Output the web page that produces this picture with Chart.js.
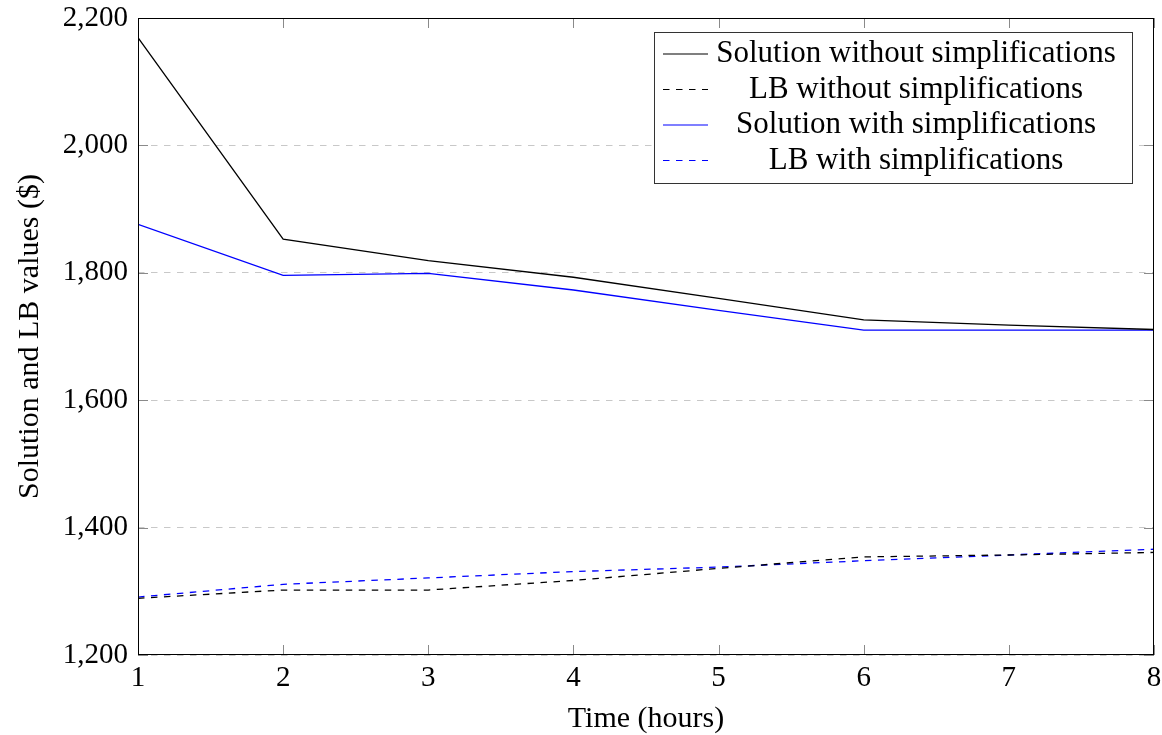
<!DOCTYPE html>
<html>
<head>
<meta charset="utf-8">
<script src="https://cdn.jsdelivr.net/npm/chart.js@4/dist/chart.umd.min.js"></script>
<style>
html, body { margin: 0; padding: 0; background: #fff; }
</style>
</head>
<body>
<canvas id="chart" width="1162" height="735"></canvas>
<script>
const hours = [1, 2, 3, 4, 5, 6, 7, 8];
const solNoSimp = [2169, 1853, 1819, 1793, 1760, 1726, 1718, 1711];
const lbNoSimp = [1289, 1302, 1302, 1317, 1336, 1354, 1357, 1361];
const solSimp = [1876, 1796, 1799, 1773, 1741, 1710, 1710, 1710];
const lbSimp = [1291, 1311, 1321, 1331, 1338, 1348, 1357, 1366];
const yTicks = [1200, 1400, 1600, 1800, 2000, 2200];
const seriesLabels = [
  "Solution without simplifications",
  "LB without simplifications",
  "Solution with simplifications",
  "LB with simplifications"
];

const font = "'Liberation Serif', 'DejaVu Serif', serif";
const dash = [6.5, 6.5];

function points(values) {
  return hours.map((h, i) => ({ x: h, y: values[i] }));
}

// keep the plot box where it is, labels may overflow into the margins
function noOverflow(s) {
  s.paddingTop = 0;
  s.paddingBottom = 0;
  s.paddingLeft = 0;
  s.paddingRight = 0;
}

// pgfplots style: inner ticks + black frame
const framePlugin = {
  id: "frame",
  afterDatasetsDraw(chart) {
    const { ctx, chartArea: a, scales } = chart;
    const len = 10;
    ctx.save();
    ctx.strokeStyle = "#8a8a8a";
    ctx.lineWidth = 1;
    ctx.beginPath();
    scales.x.ticks.forEach(t => {
      const px = Math.round(scales.x.getPixelForValue(t.value)) + 0.5;
      ctx.moveTo(px, a.bottom); ctx.lineTo(px, a.bottom - len);
      ctx.moveTo(px, a.top); ctx.lineTo(px, a.top + len);
    });
    scales.y.ticks.forEach(t => {
      const py = Math.round(scales.y.getPixelForValue(t.value)) + 0.5;
      ctx.moveTo(a.left, py); ctx.lineTo(a.left + len, py);
      ctx.moveTo(a.right, py); ctx.lineTo(a.right - len, py);
    });
    ctx.stroke();
    ctx.strokeStyle = "#000";
    ctx.strokeRect(Math.round(a.left) + 0.5, Math.round(a.top) + 0.5,
      Math.round(a.right - a.left) - 1, Math.round(a.bottom - a.top) - 1);
    ctx.restore();
  }
};

const legendPlugin = {
  id: "boxLegend",
  afterDraw(chart) {
    const { ctx, chartArea: a } = chart;
    const sets = chart.data.datasets;
    const w = 478, rowH = 35.5;
    const h = rowH * sets.length + 9;
    const x0 = a.right - 22 - w, y0 = a.top + 14;
    ctx.save();
    ctx.fillStyle = "#fff";
    ctx.fillRect(x0, y0, w, h);
    ctx.strokeStyle = "#333";
    ctx.lineWidth = 1;
    ctx.strokeRect(x0 + 0.5, y0 + 0.5, w, h);
    ctx.font = "31px " + font;
    ctx.textAlign = "center";
    ctx.textBaseline = "middle";
    sets.forEach((ds, i) => {
      const cy = y0 + 22 + i * rowH;
      ctx.beginPath();
      ctx.strokeStyle = ds.borderColor;
      ctx.lineWidth = 1.2;
      ctx.setLineDash(ds.borderDash || []);
      ctx.moveTo(x0 + 9, cy);
      ctx.lineTo(x0 + 54, cy);
      ctx.stroke();
      ctx.setLineDash([]);
      ctx.fillStyle = "#000";
      ctx.fillText(ds.label, x0 + 262, cy);
    });
    ctx.restore();
  }
};

const colors = ["#000000", "#000000", "#0000ff", "#0000ff"];
const seriesValues = [solNoSimp, lbNoSimp, solSimp, lbSimp];

new Chart(document.getElementById("chart"), {
  type: "line",
  data: {
    datasets: seriesValues.map((vals, i) => ({
      label: seriesLabels[i],
      data: points(vals),
      borderColor: colors[i],
      borderWidth: 1.3,
      borderDash: i % 2 === 1 ? dash : [],
      pointRadius: 0,
      tension: 0,
      fill: false
    }))
  },
  options: {
    responsive: false,
    animation: false,
    devicePixelRatio: 1,
    layout: { padding: { top: 18, right: 8, left: 0, bottom: 0 } },
    plugins: { legend: { display: false }, tooltip: { enabled: false } },
    scales: {
      x: {
        type: "linear",
        min: 1,
        max: 8,
        afterFit: s => { s.height = 80; noOverflow(s); },
        ticks: { stepSize: 1, color: "#000", padding: -2, font: { family: font, size: 29 } },
        grid: { display: false },
        border: { display: false },
        title: {
          display: true,
          text: "Time (hours)",
          color: "#000",
          font: { family: font, size: 30 },
          padding: { top: 0, bottom: -2 }
        }
      },
      y: {
        min: 1200,
        max: 2200,
        afterFit: s => { s.width = 138; noOverflow(s); },
        afterBuildTicks: s => { s.ticks = yTicks.map(v => ({ value: v })); },
        ticks: {
          color: "#000",
          padding: 10,
          font: { family: font, size: 29 },
          callback: v => v.toLocaleString("en-US")
        },
        grid: { color: "#c8c8c8", lineWidth: 1, drawTicks: false },
        border: { display: false, dash: dash },
        title: {
          display: true,
          text: "Solution and LB values ($)",
          color: "#000",
          font: { family: font, size: 30 },
          padding: { top: 12, bottom: 0 }
        }
      }
    }
  },
  plugins: [framePlugin, legendPlugin]
});
</script>
</body>
</html>
